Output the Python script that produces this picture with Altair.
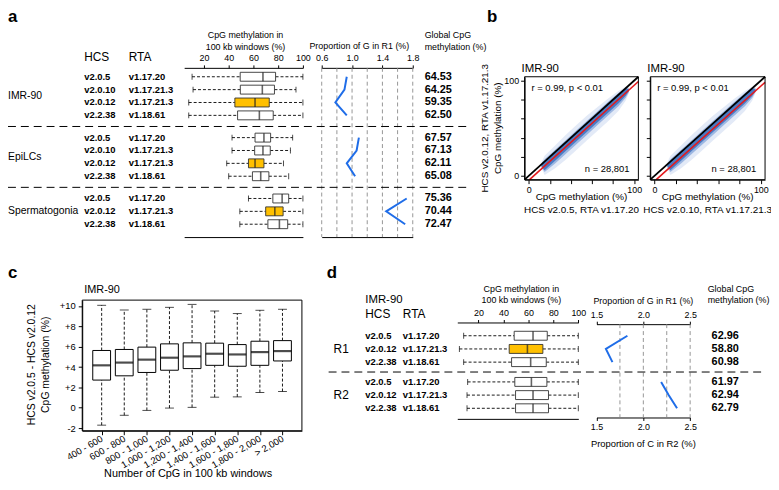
import altair as alt
import pandas as pd

FONT = "Liberation Sans"
BLUE = "#1f6de8"
ORANGE = "#FFC000"
EDGE = "#333333"
W, H = 771, 474

# ---------------- panel a data ----------------
A_GROUPS = ["IMR-90"] * 4 + ["EpiLCs"] * 4 + ["Spermatogonia"] * 3
A_HCS = ["v2.0.5", "v2.0.10", "v2.0.12", "v2.2.38",
         "v2.0.5", "v2.0.10", "v2.0.12", "v2.2.38",
         "v2.0.5", "v2.0.12", "v2.2.38"]
A_RTA = ["v1.17.20", "v1.17.21.3", "v1.17.21.3", "v1.18.61",
         "v1.17.20", "v1.17.21.3", "v1.17.21.3", "v1.18.61",
         "v1.17.20", "v1.17.21.3", "v1.18.61"]
A_HIGHLIGHT = [0, 0, 1, 0, 0, 0, 1, 0, 0, 1, 0]
A_LOW = [10.4, 11.2, 7.7, 7.7, 42.7, 42.7, 38.4, 40.0, 56.0, 49.0, 49.0]
A_Q1 = [49.3, 49.4, 45.0, 47.2, 61.3, 61.0, 56.0, 59.2, 75.7, 69.9, 71.7]
A_MED = [67.7, 67.2, 61.3, 64.8, 68.5, 67.7, 61.3, 65.9, 83.2, 77.3, 81.0]
A_Q3 = [77.9, 77.0, 72.8, 76.0, 73.9, 73.6, 68.5, 72.5, 88.5, 84.0, 87.7]
A_HIGH = [100, 94.4, 100, 100, 91.7, 89.9, 84.3, 88.5, 100, 100, 100]
A_GPROP = [0.93, 0.90, 0.78, 0.93, 1.09, 1.06, 0.93, 1.04, 1.72, 1.45, 1.70]
A_GLOBAL = ["64.53", "64.25", "59.35", "62.50", "67.57", "67.13", "62.11",
            "65.08", "75.36", "70.44", "72.47"]
A_BOX_TICKS = [20, 40, 60, 80, 100]
A_PROP_TICKS = [0.6, 1.0, 1.4, 1.8]
A_PROP_GRID = [0.6, 0.8, 1.0, 1.2, 1.4, 1.6, 1.8]

# ---------------- panel b data ----------------
B_CLOUD_X = [12, 15, 25, 35, 45, 55, 65, 75, 85, 92, 95]
B_CORE_LO = [10, 6, 16, 26, 36, 46, 56, 66, 76, 84, 89]
B_CORE_HI = [12, 15.5, 25.5, 35.5, 45.5, 55.5, 65.5, 75.5, 85.5, 91.5, 91]
B_MID_LO = [9, 4, 13, 23, 33, 43, 53, 63, 73, 82, 88]
B_MID_HI = [13, 17.5, 27.5, 37.5, 47.5, 57.5, 67.5, 77.5, 87, 92.5, 92]
B_HALO_LO = [8, 1, 8, 17, 27, 37, 47, 57, 68, 79, 87]
B_HALO_HI = [14, 21, 32, 43, 53, 63, 72, 81, 89, 93.5, 93]
B_DIAG = [-4, 104]
B_FIT_X = [[0.7, 104], [1.6, 104]]
B_FIT_Y = [[-4, 99], [-4, 98.2]]
B_XLAB = ["HCS v2.0.5, RTA v1.17.20", "HCS v2.0.10, RTA v1.17.21.3"]
B_TICKS = [0, 20, 40, 60, 80, 100]

# ---------------- panel c data ----------------
C_BINS = ["400 - 600", "600 - 800", "800 - 1,000", "1,000 - 1,200",
          "1,200 - 1,400", "1,400 - 1,600", "1,600 - 1,800",
          "1,800 - 2,000", "> 2,000"]
C_LOW = [-1.71, -0.74, -0.26, -0.03, 0.04, 1.04, 1.07, 1.50, 1.60]
C_Q1 = [2.72, 3.14, 3.47, 3.69, 3.85, 4.17, 4.08, 4.17, 4.60]
C_MED = [4.17, 4.44, 4.73, 4.92, 5.05, 5.31, 5.24, 5.47, 5.57]
C_Q3 = [5.63, 5.73, 5.96, 6.28, 6.38, 6.35, 6.21, 6.54, 6.60]
C_HIGH = [10.07, 9.61, 9.68, 9.87, 10.16, 9.51, 9.26, 9.58, 9.68]
C_YTICKS = [-2, 0, 2, 4, 6, 8, 10]

# ---------------- panel d data ----------------
D_GROUPS = ["R1"] * 3 + ["R2"] * 3
D_HCS = ["v2.0.5", "v2.0.12", "v2.2.38"] * 2
D_RTA = ["v1.17.20", "v1.17.21.3", "v1.18.61"] * 2
D_HIGHLIGHT = [0, 1, 0, 0, 0, 0]
D_LOW = [8.1, 4.7, 8.1, 11.3, 10.8, 10.8]
D_Q1 = [48.6, 44.6, 46.5, 49.1, 49.7, 49.7]
D_MED = [63.7, 59.2, 61.8, 62.4, 63.7, 63.7]
D_Q3 = [75.1, 71.6, 74.3, 74.8, 76.1, 76.1]
D_HIGH = [100, 100, 100, 100, 100, 100]
D_PROP = [1.83, 1.60, 1.67, 2.19, 2.27, 2.36]
D_GLOBAL = ["62.96", "58.80", "60.98", "61.97", "62.94", "62.79"]
D_BOX_TICKS = [20, 40, 60, 80, 100]
D_PROP_TICKS = [1.5, 2.0, 2.5]
D_PROP_GRID = [1.75, 2.0, 2.25, 2.5]


def scl(domain, rng):
    return alt.Scale(domain=domain, range=rng, nice=False, zero=False, padding=0)


def txt(s, x, y, size=10, align="left", weight="normal", angle=0, baseline="middle"):
    kw = dict(align=align, baseline=baseline, fontSize=size, fontWeight=weight,
              font=FONT, color="black")
    if angle:
        kw["angle"] = angle
    return alt.Chart(pd.DataFrame({"t": [s]})).mark_text(**kw).encode(
        text="t:N", x=alt.value(x), y=alt.value(y))


def rows_df(groups, hcs, rta, hl, low, q1, med, q3, high, prop, glob, gap):
    order = list(dict.fromkeys(groups))
    slots = [i + gap * order.index(g) for i, g in enumerate(groups)]
    return pd.DataFrame(dict(group=groups, hcs=hcs, rta=rta, hl=hl, low=low, q1=q1, med=med,
                             q3=q3, high=high, prop=prop, glob=glob, slot=slots))


def row_panel(df, ys, bx, top_y, bot_y, box_ticks, px, prop_ticks, prop_grid,
              prop_top_y, prop_bot_y, prop_bottom_labels, box_h,
              x_group, x_hcs, x_rta, x_glob, sep_x0, sep_x1, group_size):
    layers = []
    Y = alt.Y("slot:Q", scale=ys, axis=None)
    b = alt.Chart(df)
    wh = dict(color="black", strokeDash=[3, 2], strokeWidth=0.9)
    layers.append(b.mark_rule(**wh).encode(
        x=alt.X("low:Q", scale=bx, axis=None), x2="q1:Q", y=Y))
    layers.append(b.mark_rule(**wh).encode(
        x=alt.X("q3:Q", scale=bx, axis=None), x2="high:Q", y=Y))
    for f in ["low", "high"]:
        layers.append(b.mark_tick(orient="vertical", size=6, thickness=1, color="black").encode(
            x=alt.X(f + ":Q", scale=bx, axis=None), y=Y))
    fill = alt.when(alt.datum.hl == 1).then(alt.value(ORANGE)).otherwise(alt.value("white"))
    layers.append(b.mark_bar(orient="horizontal", size=box_h, stroke=EDGE, strokeWidth=0.9).encode(
        x=alt.X("q1:Q", scale=bx, axis=alt.Axis(orient="top", offset=-top_y, values=box_ticks,
                                                 title=None, tickSize=3)),
        x2="q3:Q", y=Y, fill=fill))
    layers.append(b.mark_tick(orient="vertical", size=box_h, thickness=1.6, color="#222").encode(
        x=alt.X("med:Q", scale=bx, axis=alt.Axis(orient="bottom", offset=bot_y - H, ticks=False,
                                                  labels=False, title=None)), y=Y))
    # proportion panel
    layers.append(alt.Chart(pd.DataFrame({"v": prop_grid})).mark_rule(
        color="#8a8a8a", strokeDash=[4, 3], strokeWidth=0.9).encode(
        x=alt.X("v:Q", scale=px, axis=alt.Axis(orient="top", offset=-prop_top_y, values=prop_ticks,
                                                format=".1f", title=None, tickSize=3)),
        y=alt.value(prop_top_y), y2=alt.value(prop_bot_y)))
    layers.append(b.mark_line(color=BLUE, strokeWidth=2).encode(
        x=alt.X("prop:Q", scale=px,
                axis=alt.Axis(orient="bottom", offset=prop_bot_y - H, values=prop_ticks,
                              format=".1f", title=None, tickSize=3, labels=prop_bottom_labels,
                              ticks=prop_bottom_labels)),
        y=Y, detail="group:N", order="slot:Q"))
    # texts
    tk = dict(font=FONT, color="black", baseline="middle", align="left")
    gdf = df.groupby("group", sort=False)["slot"].mean().reset_index()
    layers.append(alt.Chart(gdf).mark_text(fontSize=group_size, **tk).encode(
        text="group:N", x=alt.value(x_group), y=Y))
    layers.append(b.mark_text(fontSize=9.5, fontWeight="bold", **tk).encode(
        text="hcs:N", x=alt.value(x_hcs), y=Y))
    layers.append(b.mark_text(fontSize=9.5, fontWeight="bold", **tk).encode(
        text="rta:N", x=alt.value(x_rta), y=Y))
    layers.append(b.mark_text(fontSize=11, fontWeight="bold", **tk).encode(
        text="glob:N", x=alt.value(x_glob), y=Y))
    # separators between groups
    seps = []
    gl = list(dict.fromkeys(df["group"]))
    for g1, g2 in zip(gl[:-1], gl[1:]):
        seps.append((df[df.group == g1].slot.max() + df[df.group == g2].slot.min()) / 2)
    layers.append(alt.Chart(pd.DataFrame({"slot": seps})).mark_rule(
        color="black", strokeDash=[8, 5], strokeWidth=1).encode(
        y=Y, x=alt.value(sep_x0), x2=alt.value(sep_x1)))
    return layers


layers = []

# ======================= panel a =======================
A = rows_df(A_GROUPS, A_HCS, A_RTA, A_HIGHLIGHT, A_LOW, A_Q1, A_MED, A_Q3, A_HIGH, A_GPROP,
            A_GLOBAL, 0.73)
layers += row_panel(A, scl([0, float(A.slot.max())], [67, 216]), scl([4, 100], [178, 298]), 58, 229,
                    A_BOX_TICKS, scl([0.6, 1.8], [317, 409]), A_PROP_TICKS, A_PROP_GRID, 58, 229,
                    False, 9, 0, 77, 122, 421, 0, 464, 10.5)
layers += [
    txt("a", 0, 12, size=17, weight="bold", baseline="alphabetic"),
    txt("HCS", 77, 47, size=12), txt("RTA", 122, 47, size=12),
    txt("CpG methylation in", 240, 25, size=9, align="center"),
    txt("100 kb windows (%)", 240, 37, size=9, align="center"),
    txt("Proportion of G in R1 (%)", 355, 36, size=9, align="center"),
    txt("Global CpG", 421, 25, size=9), txt("methylation (%)", 421, 37, size=9),
]

# ======================= panel b =======================
cloud = pd.DataFrame(dict(x=B_CLOUD_X, clo=B_CORE_LO, chi=B_CORE_HI, mlo=B_MID_LO, mhi=B_MID_HI,
                          hlo=B_HALO_LO, hhi=B_HALO_HI))
diag = pd.DataFrame(dict(x=B_DIAG, y=B_DIAG))
for k, (x0, x1) in enumerate([(522, 637), (649, 765)]):
    xs = scl([-4, 104], [x0, x1])
    ys = scl([-4, 104], [171, 67])
    lab = "datum.value == 0 || datum.value == 100 ? datum.label : ''"
    layers.append(alt.Chart(cloud).mark_area(color="#e3eaf7", opacity=1).encode(
        x=alt.X("x:Q", scale=xs, axis=alt.Axis(orient="bottom", offset=171 - H, values=B_TICKS,
                                                labelExpr=lab, title=None, tickSize=4)),
        y=alt.Y("hlo:Q", scale=ys, axis=alt.Axis(orient="left", offset=-x0, values=B_TICKS,
                                                  labelExpr=lab, labels=(k == 0), title=None,
                                                  tickSize=4)),
        y2="hhi:Q"))
    layers.append(alt.Chart(cloud).mark_area(color="#9db7e2", opacity=1).encode(
        x=alt.X("x:Q", scale=xs, axis=None), y=alt.Y("mlo:Q", scale=ys, axis=None), y2="mhi:Q"))
    layers.append(alt.Chart(cloud).mark_area(color="#4a7bc4", opacity=1).encode(
        x=alt.X("x:Q", scale=xs, axis=None), y=alt.Y("clo:Q", scale=ys, axis=None), y2="chi:Q"))
    layers.append(alt.Chart(diag).mark_line(color="black", strokeWidth=1.8, clip=True).encode(
        x=alt.X("x:Q", scale=xs, axis=None), y=alt.Y("y:Q", scale=ys, axis=None)))
    fit = pd.DataFrame(dict(x=B_FIT_X[k], y=B_FIT_Y[k]))
    layers.append(alt.Chart(fit).mark_line(color="#e3191c", strokeWidth=1.6, clip=True).encode(
        x=alt.X("x:Q", scale=xs, axis=None), y=alt.Y("y:Q", scale=ys, axis=None)))
    layers.append(alt.Chart(pd.DataFrame({"a": [0]})).mark_rect(
        fill="white", fillOpacity=0, stroke="black", strokeWidth=1).encode(
        x=alt.value(x0), x2=alt.value(x1), y=alt.value(67), y2=alt.value(171)))
    layers += [
        txt("IMR-90", x0 - 3, 59, size=11.5),
        txt("r = 0.99, p < 0.01", x0 + 7, 78, size=9.5),
        txt("n = 28,801", x1 - 9, 160, size=9.5, align="right"),
        txt("CpG methylation (%)", (x0 + x1) / 2, 189, size=10, align="center"),
        txt(B_XLAB[k], (x0 + x1) / 2, 202, size=10, align="center"),
    ]
layers += [
    txt("b", 484, 12, size=17, weight="bold", baseline="alphabetic"),
    txt("HCS v2.0.12, RTA v1.17.21.3", 482, 119, size=10, align="center", angle=270),
    txt("CpG methylation (%)", 495, 119, size=10, align="center", angle=270),
]

# ======================= panel c =======================
C = pd.DataFrame(dict(bin=C_BINS, low=C_LOW, q1=C_Q1, med=C_MED, q3=C_Q3, high=C_HIGH))
cx = alt.Scale(type="point", domain=C_BINS, range=[75, 297], padding=0.86)
cy = scl([-2.26, 10.58], [424.7, 292.7])
CX = alt.X("bin:N", scale=cx, sort=C_BINS, axis=None)
cb = alt.Chart(C)
cwh = dict(color="black", strokeDash=[3, 2], strokeWidth=0.9)
layers.append(cb.mark_rule(**cwh).encode(x=CX, y=alt.Y("low:Q", scale=cy, axis=None), y2="q1:Q"))
layers.append(cb.mark_rule(**cwh).encode(x=CX, y=alt.Y("q3:Q", scale=cy, axis=None), y2="high:Q"))
for f in ["low", "high"]:
    layers.append(cb.mark_tick(orient="horizontal", size=9, thickness=1, color="black").encode(
        x=CX, y=alt.Y(f + ":Q", scale=cy, axis=None)))
layers.append(cb.mark_bar(size=18, fill="white", stroke="black", strokeWidth=1).encode(
    x=alt.X("bin:N", scale=cx, sort=C_BINS,
            axis=alt.Axis(orient="bottom", offset=424.7 - H, labelAngle=330, labelAlign="right",
                          labelBaseline="middle", tickSize=4, labelPadding=3, title=None,
                          labelFontSize=9.5)),
    y=alt.Y("q1:Q", scale=cy,
            axis=alt.Axis(orient="left", offset=-75, values=C_YTICKS, tickSize=4, labelPadding=3,
                          labelExpr="datum.value > 0 ? '+' + datum.value : '' + datum.value",
                          title=None, labelFontSize=9.5)),
    y2="q3:Q"))
layers.append(cb.mark_tick(orient="horizontal", size=18, thickness=2.2, color="black").encode(
    x=CX, y=alt.Y("med:Q", scale=cy, axis=None)))
layers.append(alt.Chart(pd.DataFrame({"a": [0]})).mark_rect(
    fill="white", fillOpacity=0, stroke="black", strokeWidth=1).encode(
    x=alt.value(75), x2=alt.value(297), y=alt.value(292.7), y2=alt.value(424.7)))
layers += [
    txt("c", 0, 270, size=17, weight="bold", baseline="alphabetic"),
    txt("IMR-90", 77, 283, size=11),
    txt("HCS v2.0.5 - HCS v2.0.12", 24, 358, size=10.5, align="center", angle=270),
    txt("CpG methylation (%)", 38, 358, size=10.5, align="center", angle=270),
    txt("Number of CpG in 100 kb windows", 182, 468, size=11, align="center"),
]

# ======================= panel d =======================
D = rows_df(D_GROUPS, D_HCS, D_RTA, D_HIGHLIGHT, D_LOW, D_Q1, D_MED, D_Q3, D_HIGH, D_PROP,
            D_GLOBAL, 0.5)
layers += row_panel(D, scl([0, float(D.slot.max())], [328.7, 402]), scl([3, 100], [454, 576.3]),
                    315.3, 412.7, D_BOX_TICKS, scl([1.5, 2.5], [594.7, 689.3]), D_PROP_TICKS,
                    D_PROP_GRID, 317, 411.3, True, 9, 329, 361, 399, 711, 324, 762, 12)
layers += [
    txt("d", 322, 270, size=17, weight="bold", baseline="alphabetic"),
    txt("IMR-90", 361, 293, size=11.5),
    txt("HCS", 361, 307, size=12), txt("RTA", 399, 307, size=12),
    txt("CpG methylation in", 518.7, 281, size=9, align="center"),
    txt("100 kb windows (%)", 518.7, 293, size=9, align="center"),
    txt("Proportion of G in R1 (%)", 642, 294, size=9, align="center"),
    txt("Proportion of C in R2 (%)", 642, 438, size=9.5, align="center"),
    txt("Global CpG", 707, 281, size=9), txt("methylation (%)", 707, 293, size=9),
]

chart = alt.layer(*layers).resolve_scale(x="independent", y="independent").properties(
    width=W, height=H, autosize=alt.AutoSizeParams(type="none"), padding=0
).configure_view(stroke=None).configure_axis(
    grid=False, labelFont=FONT, titleFont=FONT, labelColor="black", domainColor="black",
    tickColor="black", labelFontSize=9, labelFlush=False, labelOverlap=False,
    domainWidth=1, tickWidth=1, labelPadding=2
)

chart.save("out.html", embed_options={"renderer": "svg", "actions": False})
